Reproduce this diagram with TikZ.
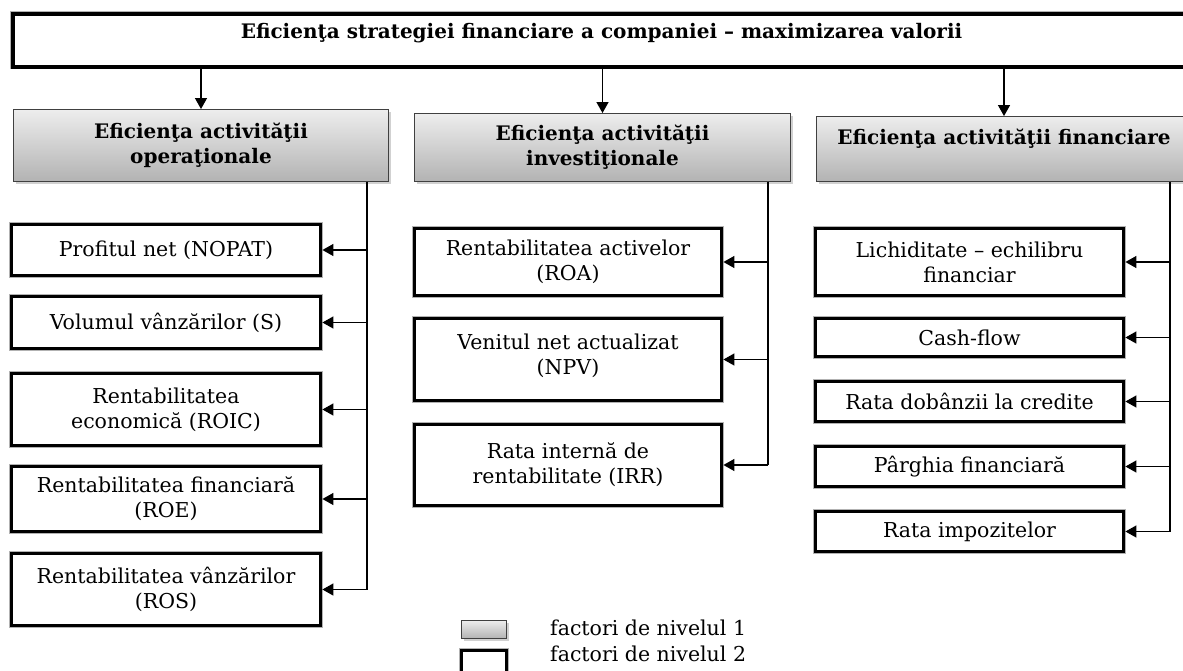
\documentclass[tikz,border=0pt]{standalone}
\usepackage{fontspec}
\setmainfont{DejaVu Serif}
\usetikzlibrary{arrows.meta,shadows}

% box from its two corners: style, name, x1, y1, x2, y2, text
\newcommand{\cornerbox}[7]{%
  \node[#1, minimum width={#5-#3-3}, minimum height={#6-#4-3}]
    (#2) at ({(#3+#5)/2},{(#4+#6)/2}) {#7};}

\begin{document}
\begin{tikzpicture}[x=1pt,y=-1pt,
  goal/.style={draw=black, line width=4pt, fill=white,
    preaction={draw=black!30, line width=5.8pt},
    font=\bfseries\fontsize{20}{25}\selectfont, align=center, inner sep=0pt},
  lvone/.style={draw=black!75, line width=0.9pt, top color=black!7, bottom color=black!30,
    drop shadow={shadow xshift=2pt, shadow yshift=-2pt, opacity=0.3, fill=black!60},
    font=\bfseries\fontsize{20}{25}\selectfont, align=center, inner sep=0pt},
  lvtwo/.style={draw=black, line width=3.8pt, fill=white,
    preaction={draw=black!30, line width=5.8pt},
    font=\fontsize{20.5}{25}\selectfont, align=center, inner sep=0pt},
  legtext/.style={anchor=west, font=\fontsize{20.5}{22}\selectfont, inner sep=0pt},
  arr/.style={-{Triangle[length=11pt,width=12pt]}, line width=1.3pt},
  bus/.style={line width=1.3pt}]

\useasboundingbox (0,0) rectangle (1183,670);
\clip (0,0) rectangle (1183,670);

% goal
\cornerbox{goal}{top}{11}{12}{1192}{68}
  {Eficienţa strategiei financiare a companiei – maximizarea valorii\\[-6pt]\mbox{}}

% first-level factors
\cornerbox{lvone}{lvA}{12}{108}{390}{183}{Eficienţa activităţii\\operaţionale}
\cornerbox{lvone}{lvB}{413}{112}{792}{183}{Eficienţa activităţii\\investiţionale}
\cornerbox{lvone}{lvC}{815}{115}{1193}{183}{Eficienţa activităţii financiare\\\mbox{}}

\draw[arr] (lvA.north |- top.south) -- (lvA.north);
\draw[arr] (lvB.north |- top.south) -- (lvB.north);
\draw[arr] (lvC.north |- top.south) -- (lvC.north);

% second-level factors: operational
\cornerbox{lvtwo}{a1}{10}{223}{322}{277}{Profitul net (NOPAT)}
\cornerbox{lvtwo}{a2}{10}{295}{322}{350}{Volumul vânzărilor (S)}
\cornerbox{lvtwo}{a3}{10}{372}{322}{447}{Rentabilitatea\\economică (ROIC)}
\cornerbox{lvtwo}{a4}{10}{465}{322}{533}{Rentabilitatea financiară\\(ROE)}
\cornerbox{lvtwo}{a5}{10}{552}{322}{627}{Rentabilitatea vânzărilor\\(ROS)}

% second-level factors: investment
\cornerbox{lvtwo}{b1}{413}{227}{723}{297}{Rentabilitatea activelor\\(ROA)}
\cornerbox{lvtwo}{b2}{413}{317}{723}{402}{Venitul net actualizat\\(NPV)\\[-14pt]\mbox{}}
\cornerbox{lvtwo}{b3}{413}{423}{723}{507}{Rata internă de\\rentabilitate (IRR)}

% second-level factors: financial
\cornerbox{lvtwo}{c1}{814}{227}{1125}{297}{Lichiditate – echilibru\\financiar}
\cornerbox{lvtwo}{c2}{814}{317}{1125}{358}{Cash-flow}
\cornerbox{lvtwo}{c3}{814}{380}{1125}{423}{Rata dobânzii la credite}
\cornerbox{lvtwo}{c4}{814}{445}{1125}{488}{Pârghia financiară}
\cornerbox{lvtwo}{c5}{814}{510}{1125}{553}{Rata impozitelor}

% distribution lines
\coordinate (busA) at (367,0);
\coordinate (busB) at (768,0);
\coordinate (busC) at (1170,0);

\draw[bus] (lvA.south -| busA) -- (a5.east -| busA);
\foreach \n in {a1,a2,a3,a4,a5} \draw[arr] (\n.east -| busA) -- (\n.east);

\draw[bus] (lvB.south -| busB) -- (b3.east -| busB);
\foreach \n in {b1,b2,b3} \draw[arr] (\n.east -| busB) -- (\n.east);

\draw[bus] (lvC.south -| busC) -- (c5.east -| busC);
\foreach \n in {c1,c2,c3,c4,c5} \draw[arr] (\n.east -| busC) -- (\n.east);

% legend
\cornerbox{lvone}{leg1}{460}{619}{508}{640}{}
\cornerbox{lvtwo}{leg2}{460}{649}{508}{676}{}
\node[legtext] (leg1t) at (550,628) {factori de nivelul 1};
\node[legtext] (leg2t) at (550,654) {factori de nivelul 2};
\end{tikzpicture}
\end{document}
